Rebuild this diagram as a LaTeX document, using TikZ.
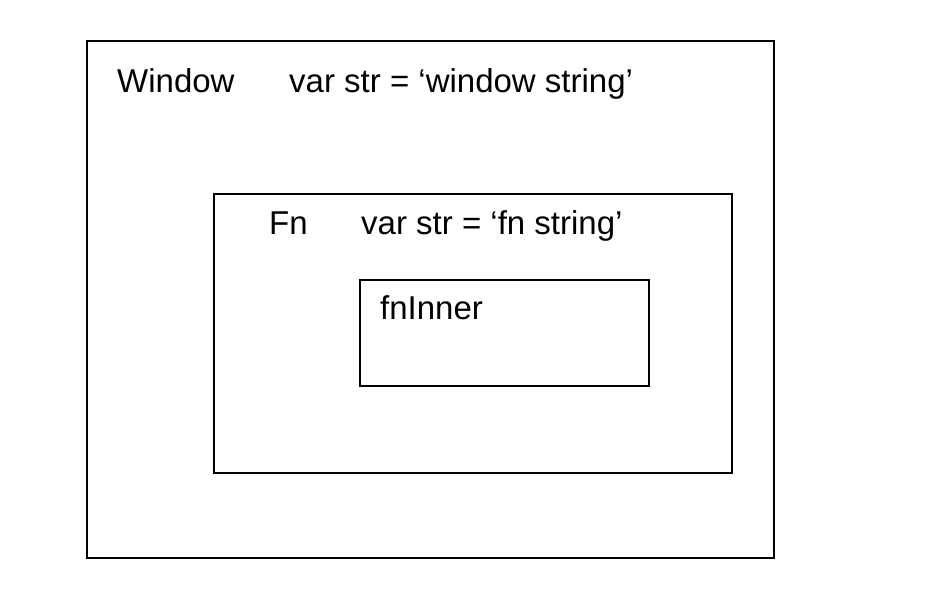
\documentclass[tikz,border=0pt]{standalone}
\usepackage{fontspec}
\setmainfont{Liberation Sans}
\begin{document}
\begin{tikzpicture}[x=1pt,y=-1pt,
  scopebox/.style={draw=black,line width=2pt},
  lbl/.style={anchor=base west,inner sep=0pt,font=\fontsize{33}{40}\selectfont}]
\useasboundingbox (0,0) rectangle (930,596);
\node[scopebox,minimum width=687pt,minimum height=516pt,anchor=north west,inner sep=0pt] (window) at (85.5,40.5) {};
\node[scopebox,minimum width=518pt,minimum height=278pt,anchor=north west,inner sep=0pt] (fn) at (212.5,193.5) {};
\node[scopebox,minimum width=289pt,minimum height=105pt,anchor=north west,inner sep=0pt] (inner) at (358.5,279.5) {};
\node[lbl] (wname) at (117,93) {Window};
\node[lbl] (wvar) at (289,93) {var str = ‘window string’};
\node[lbl] (fname) at (269,235) {Fn};
\node[lbl] (fvar) at (361,235) {var str = ‘fn string’};
\node[lbl] (iname) at (380,320) {fnInner};
\end{tikzpicture}
\end{document}
